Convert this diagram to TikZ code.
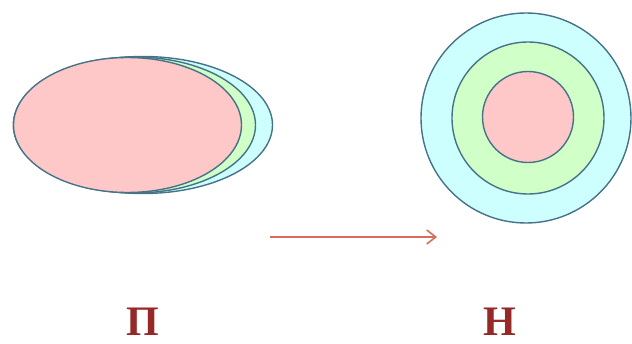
\documentclass[tikz,border=0pt]{standalone}
\usepackage{fontspec}
\setmainfont{Liberation Serif}
\usetikzlibrary{shapes.geometric,arrows.meta}
\definecolor{edgec}{RGB}{70,115,135}
\definecolor{pinkf}{RGB}{255,200,200}
\definecolor{greenf}{RGB}{208,255,200}
\definecolor{cyanf}{RGB}{205,255,255}
\definecolor{letterc}{RGB}{150,40,40}
\definecolor{arrowc}{RGB}{215,110,90}
\tikzset{
  ring/.style={draw=edgec, line width=1.4pt, inner sep=0pt, outer sep=0pt},
  oval/.style={ring, ellipse},
  disc/.style={ring, circle},
  letter/.style={text=letterc, font=\bfseries\fontsize{42}{42}\selectfont, inner sep=0pt},
}
\begin{document}
\begin{tikzpicture}[x=1pt,y=-1pt]
\useasboundingbox (0,0) rectangle (632,344);
% left ellipses
\node[oval, fill=cyanf, minimum width=259pt, minimum height=137pt] (e3) at (143,125) {};
\node[oval, fill=greenf, minimum width=242pt, minimum height=136pt] (e2) at (134.5,125) {};
\node[oval, fill=pinkf, minimum width=228pt, minimum height=135pt] (e1) at (127.5,125) {};
% right circles
\node[disc, fill=cyanf, minimum size=210pt] (c3) at (526,118) {};
\node[disc, fill=greenf, minimum size=152pt] (c2) at (528,118) {};
\node[disc, fill=pinkf, minimum size=91pt] (c1) at (528,117) {};
% arrow
\coordinate (a1) at (270,237);
\coordinate (a2) at (437,237);
\draw[arrowc, line width=1.6pt, -{Straight Barb[length=9pt,width=14pt,line width=1.6pt]}] (a1) -- (a2);
% labels
\node[letter] (lp) at (142.5,322) {П};
\node[letter] (ln) at (500,322) {Н};
\end{tikzpicture}
\end{document}
